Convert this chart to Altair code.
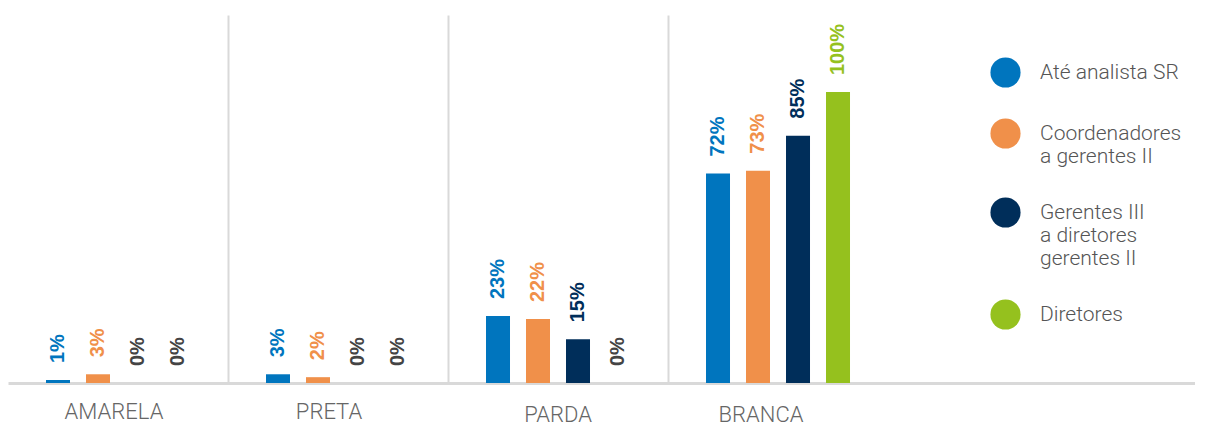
import altair as alt
import pandas as pd

groups = ["AMARELA", "PRETA", "PARDA", "BRANCA"]
series = [
    "Até analista SR",
    "Coordenadores|a gerentes II",
    "Gerentes III|a diretores|gerentes II",
    "Diretores",
]
colors = ["#0075BE", "#F0904A", "#002E5A", "#95C11E"]
values = {
    "AMARELA": [1, 3, 0, 0],
    "PRETA": [3, 2, 0, 0],
    "PARDA": [23, 22, 15, 0],
    "BRANCA": [72, 73, 85, 100],
}

rows = []
for g in groups:
    for s, v in zip(series, values[g]):
        rows.append({"group": g, "series": s, "value": v, "label": f"{v}%"})
df = pd.DataFrame(rows)

W, H = 1187, 368

x_scale = alt.Scale(domain=groups, paddingInner=0, paddingOuter=0.6977, align=0)
y_scale = alt.Scale(domain=[0, 126.5])
color_scale = alt.Scale(domain=series, range=colors)
off_scale = alt.Scale(domain=series, paddingInner=0.4, paddingOuter=0.95)

x_enc = alt.X(
    "group:N",
    scale=x_scale,
    axis=alt.Axis(
        title=None,
        labelAngle=0,
        ticks=False,
        domainColor="#d9d9d9",
        domainWidth=3,
        labelFont="Roboto",
        labelFontWeight=300,
        labelFontSize=22,
        labelColor="#666666",
        labelPadding={
            "condition": {"test": "datum.value == 'PARDA' || datum.value == 'BRANCA'", "value": 21},
            "value": 18,
        },
        labelOffset={
            "condition": [
                {"test": "datum.value == 'AMARELA'", "value": -4},
                {"test": "datum.value == 'PRETA'", "value": -9},
                {"test": "datum.value == 'BRANCA'", "value": -17},
            ],
            "value": 0,
        },
        grid=True,
        bandPosition=0,
        gridColor="#d9d9d9",
        gridWidth=2,
        gridOpacity={"condition": {"test": "datum.value == 'AMARELA'", "value": 0}, "value": 1},
    ),
)

bars = alt.Chart(df).mark_bar().encode(
    x=x_enc,
    xOffset=alt.XOffset("series:N", scale=off_scale),
    y=alt.Y("value:Q", scale=y_scale, axis=None),
    color=alt.Color(
        "series:N",
        scale=color_scale,
        legend=alt.Legend(
            title=None,
            orient="none",
            legendX=982,
            legendY=42,
            symbolType="circle",
            symbolSize=908,
            symbolStrokeWidth=0,
            symbolOpacity=1,
            labelFont="Roboto",
            labelFontWeight=300,
            labelFontSize=21,
            labelColor="#555555",
            labelOffset=19,
            labelLimit=400,
            labelExpr="split(datum.label, '|')",
            rowPadding=30,
            padding=0,
        ),
    ),
)

labels = alt.Chart(df).mark_text(
    angle=270,
    align="left",
    baseline="middle",
    dx=17,
    font="Liberation Sans",
    fontWeight="bold",
    fontSize=20,
).encode(
    x=alt.X("group:N", scale=x_scale),
    xOffset=alt.XOffset("series:N", scale=off_scale),
    y=alt.Y("value:Q", scale=y_scale),
    text="label:N",
    color=alt.condition(
        "datum.value == 0",
        alt.value("#444444"),
        alt.Color("series:N", scale=color_scale, legend=None),
    ),
)

chart = (
    alt.layer(bars, labels)
    .properties(
        width=W,
        height=H,
        padding={"left": 0, "top": 7, "right": 0, "bottom": 45},
        autosize=alt.AutoSizeParams(type="none"),
    )
    .configure_view(stroke=None)
)

chart.save("out.html", embed_options={"renderer": "svg", "actions": False})
